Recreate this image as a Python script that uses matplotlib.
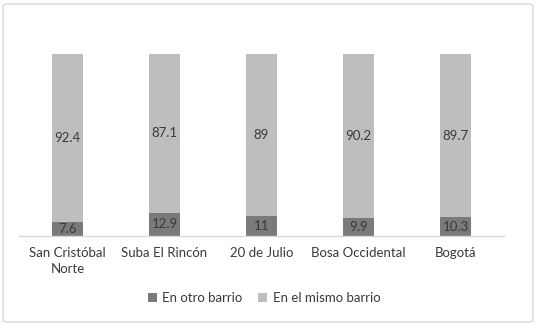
#!/usr/bin/env python3
"""Stacked 100% bars: where people live relative to their barrio."""

import matplotlib

matplotlib.use("Agg")
import matplotlib.pyplot as plt
from matplotlib.patches import FancyBboxPatch

categories = ["San Cristóbal\nNorte", "Suba El Rincón", "20 de Julio", "Bosa Occidental", "Bogotá"]
otro_barrio = [7.6, 12.9, 11, 9.9, 10.3]
mismo_barrio = [92.4, 87.1, 89, 90.2, 89.7]
series_names = ["En otro barrio", "En el mismo barrio"]

DARK = "#7a7a7a"
LIGHT = "#bebebe"
TEXT = "#3a3a3a"

plt.rcParams["font.family"] = ["Lato", "DejaVu Sans"]

figure = plt.figure(figsize=(5.37, 3.25), dpi=100)
W, H = 537, 325
axis = figure.add_axes([19 / W, 1 - 236 / H, 485 / W, 182 / H])

xs = list(range(len(categories)))
width = 0.32
bottom_bars = axis.bar(xs, otro_barrio, width=width, color=DARK, label=series_names[0])
top_bars = axis.bar(xs, mismo_barrio, width=width, bottom=otro_barrio, color=LIGHT, label=series_names[1])

for x, low, high in zip(xs, otro_barrio, mismo_barrio):
    axis.text(x, low / 2, f"{low:g}", ha="center", va="center", fontsize=9.5, color=TEXT)
    axis.text(x, low + high / 2, f"{high:g}", ha="center", va="center", fontsize=9.5, color=TEXT)

axis.set_xlim(-0.5, len(categories) - 0.5)
axis.set_ylim(0, 100)
axis.set_xticks(xs)
axis.set_xticklabels(categories, fontsize=9.5, color=TEXT, linespacing=1.35)
axis.tick_params(axis="x", length=0, pad=8)
axis.set_yticks([])
for side in ("top", "right", "left"):
    axis.spines[side].set_visible(False)
axis.spines["bottom"].set_color("#d9d9d9")
axis.spines["bottom"].set_linewidth(1.0)

figure.legend(
    handles=[bottom_bars, top_bars],
    labels=series_names,
    loc="center",
    bbox_to_anchor=(264 / W, 1 - 298 / H),
    ncol=2,
    frameon=False,
    fontsize=9.5,
    handlelength=0.7,
    handleheight=0.7,
    handletextpad=0.4,
    columnspacing=1.2,
    labelcolor=TEXT,
)

border = FancyBboxPatch(
    (3 / W, 3 / H), 530 / W, 318 / H,
    boxstyle="round,pad=0,rounding_size=0.008",
    transform=figure.transFigure, fill=False, edgecolor="#d9d9d9", linewidth=1.0,
)
figure.patches.append(border)

figure.savefig("out.png", dpi=100)
plt.close(figure)
